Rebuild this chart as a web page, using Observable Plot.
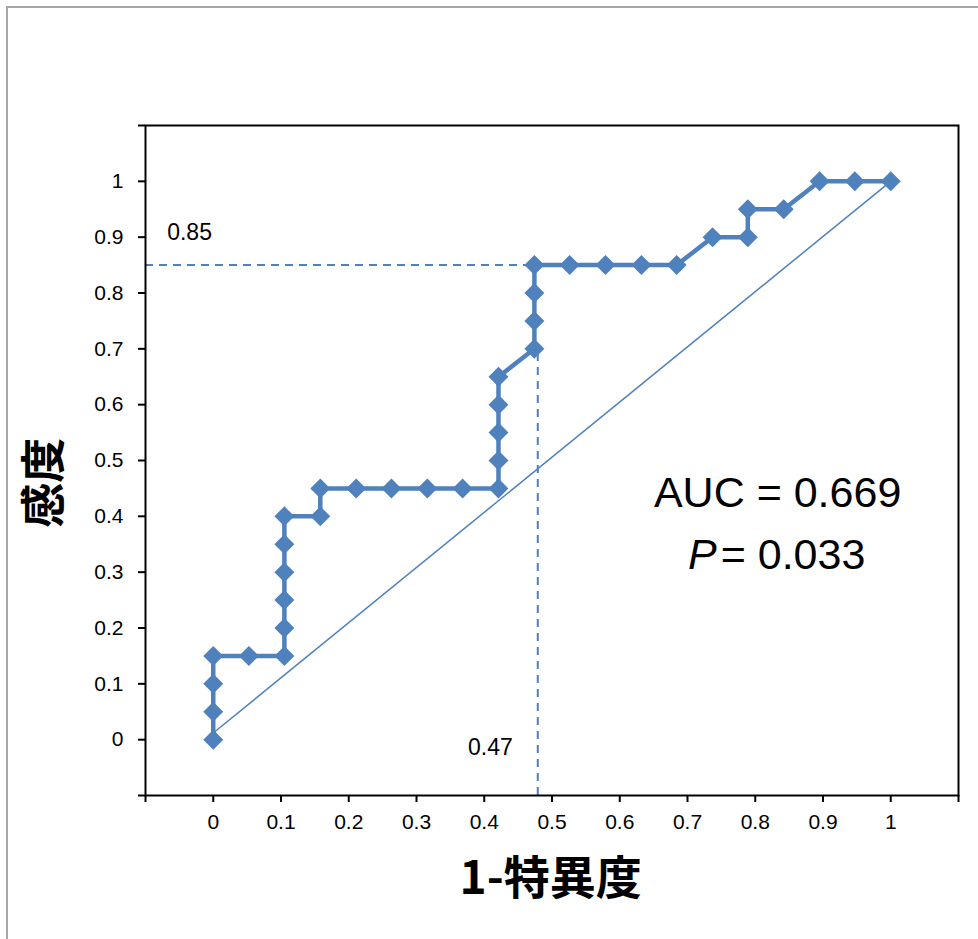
<!DOCTYPE html>
<html>
<head>
<meta charset="utf-8">
<script src="https://cdn.jsdelivr.net/npm/d3@7"></script>
<script src="https://cdn.jsdelivr.net/npm/@observablehq/plot@0.6"></script>
<style>
  html, body { margin: 0; padding: 0; background: #fff; overflow: hidden; }
  #wrap { position: relative; width: 978px; height: 939px; }
  #border { position: absolute; left: 6px; top: 6px; width: 1000px; height: 1000px;
            border: 2px solid #a6a6a6; box-sizing: border-box; pointer-events: none; }
  svg { display: block; }
</style>
</head>
<body>
<div id="wrap"><div id="border"></div></div>
<script>
// 1 - specificity (false positive rate) and sensitivity, ROC points
const fpr = [0, 0, 0, 0, 0.0526, 0.105, 0.105, 0.105, 0.105, 0.105, 0.105, 0.158, 0.158,
             0.211, 0.263, 0.316, 0.368, 0.421, 0.421, 0.421, 0.421, 0.421,
             0.474, 0.474, 0.474, 0.474, 0.526, 0.579, 0.632, 0.684,
             0.737, 0.789, 0.789, 0.842, 0.895, 0.947, 1];
const tpr = [0, 0.05, 0.1, 0.15, 0.15, 0.15, 0.2, 0.25, 0.3, 0.35, 0.4, 0.4, 0.45,
             0.45, 0.45, 0.45, 0.45, 0.45, 0.5, 0.55, 0.6, 0.65,
             0.7, 0.75, 0.8, 0.85, 0.85, 0.85, 0.85, 0.85,
             0.9, 0.9, 0.95, 0.95, 1, 1, 1];
// reference diagonal
const diagX = [0, 1];
const diagY = [0.012, 1];
// cut-off point guides
const cutX = 0.479;
const cutY = 0.85;
const cutXLabel = "0.47";
const cutYLabel = "0.85";
// tick values and labels
const tickValues = [-0.1, 0, 0.1, 0.2, 0.3, 0.4, 0.5, 0.6, 0.7, 0.8, 0.9, 1, 1.1];
const tickLabels = ["", "0", "0.1", "0.2", "0.3", "0.4", "0.5", "0.6", "0.7", "0.8", "0.9", "1", ""];
const xTitle = "1-特異度";
const yTitle = "感度";
const aucText = "AUC = 0.669";
const pLetter = "P";
const pText = "= 0.033";

const roc = fpr.map((x, i) => ({x, y: tpr[i]}));
const diag = diagX.map((x, i) => ({x, y: diagY[i]}));
const fmt = d => tickLabels[tickValues.indexOf(d)] ?? "";
const blue = "#4f81bd";
const font = "'Liberation Sans', Arial, sans-serif";
const cjk = "'Noto Sans CJK JP', sans-serif";

const chart = Plot.plot({
  width: 978,
  height: 939,
  marginLeft: 145,
  marginRight: 20,
  marginTop: 125,
  marginBottom: 144,
  style: {fontFamily: font, fontSize: "21px", color: "#000", background: "transparent"},
  x: {domain: [-0.1, 1.1], ticks: tickValues, tickFormat: fmt, label: null},
  y: {domain: [-0.1, 1.1], ticks: tickValues, tickFormat: fmt, label: null},
  marks: [
    Plot.line(diag, {x: "x", y: "y", stroke: blue, strokeWidth: 1.5}),
    Plot.ruleY([cutY], {x1: -0.1, x2: fpr[22], stroke: blue, strokeWidth: 2, strokeDasharray: "8,6"}),
    Plot.ruleX([cutX], {y1: -0.1, y2: tpr[22], stroke: blue, strokeWidth: 2, strokeDasharray: "8,6"}),
    Plot.line(roc, {x: "x", y: "y", stroke: blue, strokeWidth: 4.5}),
    Plot.dot(roc, {x: "x", y: "y", symbol: "diamond2", r: 9, fill: blue, stroke: "none"}),
    Plot.frame({stroke: "#000", strokeWidth: 2}),
    Plot.axisX({ticks: tickValues, tickFormat: fmt, tickSize: 7, tickPadding: 12, strokeWidth: 2, fontSize: 21, label: null}),
    Plot.axisY({ticks: tickValues, tickFormat: fmt, tickSize: 7, tickPadding: 15, strokeWidth: 2, fontSize: 21, label: null}),
    Plot.text([cutYLabel], {x: -0.035, y: 0.909, text: d => d, fontSize: 23, fill: "#000"}),
    Plot.text([cutXLabel], {x: 0.409, y: -0.014, text: d => d, fontSize: 23, fill: "#000"}),
    Plot.text([aucText], {x: 0.833, y: 0.416, text: d => d, fontSize: 43, lineAnchor: "bottom", fill: "#000"}),
    Plot.text([pLetter], {x: 0.743, y: 0.306, text: d => d, fontSize: 43, fontStyle: "italic", textAnchor: "end", lineAnchor: "bottom", fill: "#000"}),
    Plot.text([pText], {x: 0.749, y: 0.306, text: d => d, fontSize: 43, textAnchor: "start", lineAnchor: "bottom", fill: "#000"}),
    Plot.text([xTitle], {x: 0.498, y: -0.277, text: d => d, fontSize: 46, fontWeight: "bold", fontFamily: cjk, lineAnchor: "bottom", fill: "#000"}),
    Plot.text([yTitle], {x: -0.248, y: 0.46, text: d => d, fontSize: 45, fontWeight: "bold", fontFamily: cjk, rotate: -90, fill: "#000"})
  ]
});
document.getElementById("wrap").appendChild(chart);
</script>
</body>
</html>
